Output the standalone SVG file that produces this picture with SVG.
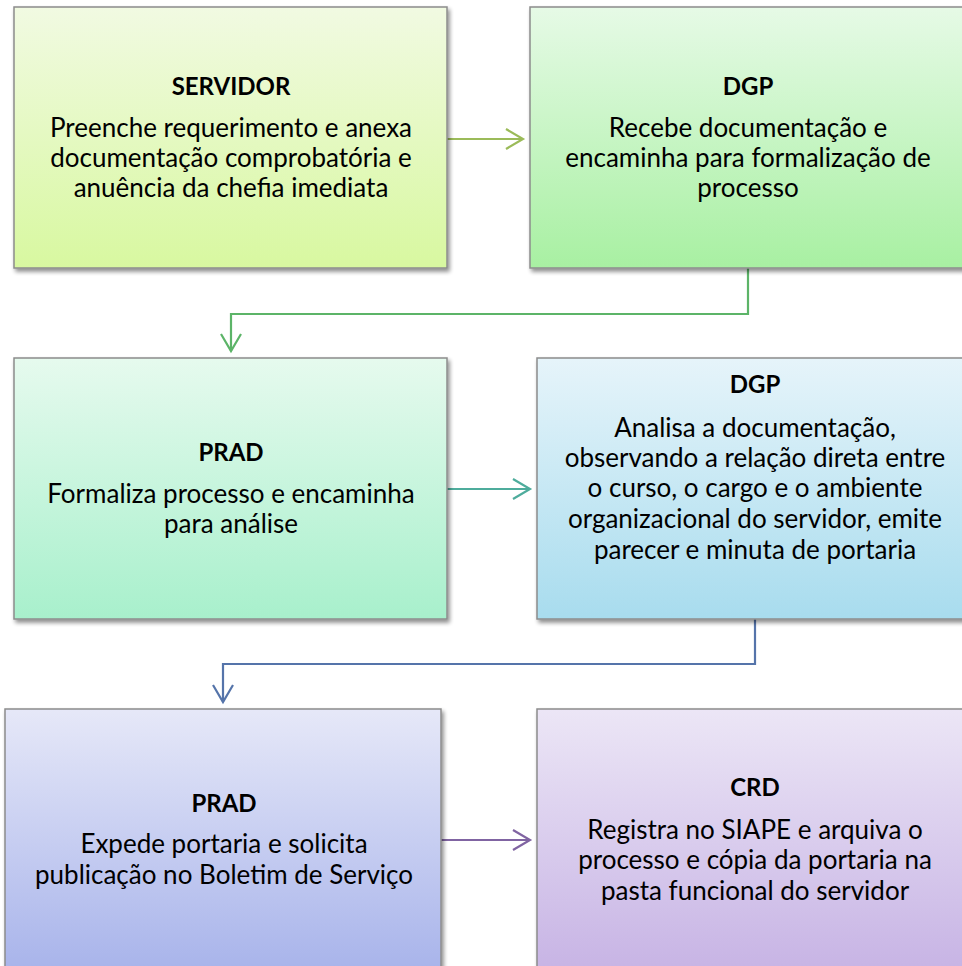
<svg xmlns="http://www.w3.org/2000/svg" width="962" height="966" viewBox="0 0 962 966">
<defs>
<style>
.box{stroke:#8c8c8c;stroke-width:1.5;filter:url(#sh)}
.t{font-family:"Lato","Liberation Sans",sans-serif;font-size:26px;fill:#000;text-anchor:middle}
.b{font-weight:bold;font-size:24px}
.c{fill:none;stroke-width:2.2}
</style>
<filter id="sh" x="-5%" y="-5%" width="115%" height="115%">
<feGaussianBlur in="SourceAlpha" stdDeviation="2"/>
<feOffset dx="2" dy="3" result="o"/>
<feComponentTransfer><feFuncA type="linear" slope="0.45"/></feComponentTransfer>
<feMerge><feMergeNode/><feMergeNode in="SourceGraphic"/></feMerge>
</filter>
<linearGradient id="g1" x1="0" y1="0" x2="0" y2="1"><stop offset="0" stop-color="#f1fae2"/><stop offset="1" stop-color="#d8f8a0"/></linearGradient>
<linearGradient id="g2" x1="0" y1="0" x2="0" y2="1"><stop offset="0" stop-color="#e6fae6"/><stop offset="1" stop-color="#a8f0a2"/></linearGradient>
<linearGradient id="g3" x1="0" y1="0" x2="0" y2="1"><stop offset="0" stop-color="#e6faee"/><stop offset="1" stop-color="#a8f0cc"/></linearGradient>
<linearGradient id="g4" x1="0" y1="0" x2="0" y2="1"><stop offset="0" stop-color="#e6f4fa"/><stop offset="1" stop-color="#a8dcee"/></linearGradient>
<linearGradient id="g5" x1="0" y1="0" x2="0" y2="1"><stop offset="0" stop-color="#e6e8f8"/><stop offset="1" stop-color="#a6b2ea"/></linearGradient>
<linearGradient id="g6" x1="0" y1="0" x2="0" y2="1"><stop offset="0" stop-color="#ece6f6"/><stop offset="1" stop-color="#c6b2e4"/></linearGradient>
<marker id="a1" markerUnits="userSpaceOnUse" markerWidth="24" markerHeight="24" refX="18" refY="11" orient="auto"><path d="M1,1 L18,11 L1,21" fill="none" stroke="#9bbb59" stroke-width="2.2"/></marker>
<marker id="a2" markerUnits="userSpaceOnUse" markerWidth="24" markerHeight="24" refX="18" refY="11" orient="auto"><path d="M1,1 L18,11 L1,21" fill="none" stroke="#5cb468" stroke-width="2.2"/></marker>
<marker id="a3" markerUnits="userSpaceOnUse" markerWidth="24" markerHeight="24" refX="18" refY="11" orient="auto"><path d="M1,1 L18,11 L1,21" fill="none" stroke="#4eac9c" stroke-width="2.2"/></marker>
<marker id="a4" markerUnits="userSpaceOnUse" markerWidth="24" markerHeight="24" refX="18" refY="11" orient="auto"><path d="M1,1 L18,11 L1,21" fill="none" stroke="#5574aa" stroke-width="2.2"/></marker>
<marker id="a5" markerUnits="userSpaceOnUse" markerWidth="24" markerHeight="24" refX="18" refY="11" orient="auto"><path d="M1,1 L18,11 L1,21" fill="none" stroke="#8064a2" stroke-width="2.2"/></marker>
</defs>
<rect width="962" height="966" fill="#fff"/>
<g id="connectors">
<path class="c" d="M447,139 H523" stroke="#9bbb59" marker-end="url(#a1)"/>
<path class="c" d="M748,268 V314 H231 V351" stroke="#5cb468" marker-end="url(#a2)"/>
<path class="c" d="M447,489 H530" stroke="#4eac9c" marker-end="url(#a3)"/>
<path class="c" d="M755,619 V664 H223 V702" stroke="#5574aa" marker-end="url(#a4)"/>
<path class="c" d="M441,840 H530" stroke="#8064a2" marker-end="url(#a5)"/>
</g>
<g id="n1">
<rect class="box" x="14" y="7" width="433" height="261" fill="url(#g1)"/>
<text class="t b" x="231" y="95">SERVIDOR</text>
<text class="t" x="231" y="137">Preenche requerimento e anexa</text>
<text class="t" x="231" y="167">documentação comprobatória e</text>
<text class="t" x="231" y="197">anuência da chefia imediata</text>
</g>
<g id="n2">
<rect class="box" x="530" y="7" width="436" height="261" fill="url(#g2)"/>
<text class="t b" x="748" y="95">DGP</text>
<text class="t" x="748" y="137">Recebe documentação e</text>
<text class="t" x="748" y="167">encaminha para formalização de</text>
<text class="t" x="748" y="197">processo</text>
</g>
<g id="n3">
<rect class="box" x="14" y="358" width="433" height="261" fill="url(#g3)"/>
<text class="t b" x="231" y="461">PRAD</text>
<text class="t" x="231" y="503">Formaliza processo e encaminha</text>
<text class="t" x="231" y="533">para análise</text>
</g>
<g id="n4">
<rect class="box" x="537" y="358" width="436" height="261" fill="url(#g4)"/>
<text class="t b" x="755" y="393">DGP</text>
<text class="t" x="755" y="437">Analisa a documentação,</text>
<text class="t" x="755" y="467">observando a relação direta entre</text>
<text class="t" x="755" y="497">o curso, o cargo e o ambiente</text>
<text class="t" x="755" y="528">organizacional do servidor, emite</text>
<text class="t" x="755" y="559">parecer e minuta de portaria</text>
</g>
<g id="n5">
<rect class="box" x="5" y="709" width="436" height="270" fill="url(#g5)"/>
<text class="t b" x="224" y="812">PRAD</text>
<text class="t" x="224" y="853">Expede portaria e solicita</text>
<text class="t" x="224" y="884">publicação no Boletim de Serviço</text>
</g>
<g id="n6">
<rect class="box" x="537" y="709" width="436" height="270" fill="url(#g6)"/>
<text class="t b" x="755" y="796">CRD</text>
<text class="t" x="755" y="839">Registra no SIAPE e arquiva o</text>
<text class="t" x="755" y="869">processo e cópia da portaria na</text>
<text class="t" x="755" y="900">pasta funcional do servidor</text>
</g>
</svg>
